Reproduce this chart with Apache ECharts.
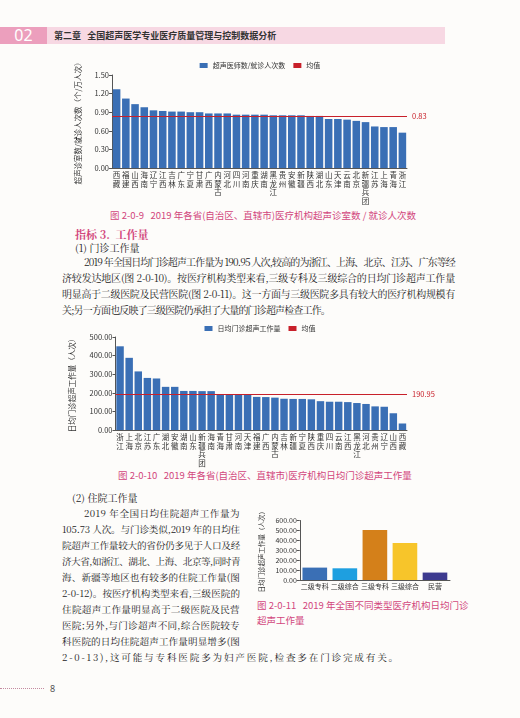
<!DOCTYPE html>
<html><head><meta charset="utf-8">
<script src="https://cdn.jsdelivr.net/npm/echarts@6/dist/echarts.min.js"></script>
<style>
body{margin:0;width:520px;height:718px;background:#fdfcfa;font-family:"Noto Serif CJK SC","Noto Sans CJK SC",serif;position:relative;overflow:hidden;color:#222}
.a{position:absolute;white-space:nowrap}
.cap{color:#d2467c;font-family:"Noto Sans CJK SC";font-size:9.5px}
.p{font-size:10px;line-height:14px}
.l{font-size:9.6px}
.c{position:absolute}
</style></head><body>
<div class="a" style="left:0;top:27px;width:445px;height:17px;background:#f7d8e3"></div>
<div class="a" style="left:0;top:27px;width:47px;height:17px;background:#ec9fbd;color:#fff;font-size:16px;line-height:17px;text-align:center;font-family:'Noto Sans'">02</div>
<div class="a" style="left:54px;top:29px;font-size:9px;font-family:'Noto Sans CJK SC';font-weight:bold;color:#333">第二章&nbsp;&nbsp;&nbsp;全国超声医学专业医疗质量管理与控制数据分析</div>
<div id="c1" class="c" style="left:60px;top:55px;width:400px;height:150px"></div>
<div class="a cap" style="left:110px;top:208px">图 2-0-9&nbsp;&nbsp;&nbsp;2019 年各省(自治区、直辖市)医疗机构超声诊室数 / 就诊人次数</div>
<div class="a" style="left:75px;top:226px;font-size:11px;color:#d2467c;font-weight:bold">指标 3.&nbsp;&nbsp;工作量</div>
<div class="a" style="left:75px;top:240px;font-size:10px">(1) 门诊工作量</div>
<div class="a p" data-w="371" style="left:84px;top:255px">2019 年全国日均门诊超声工作量为 190.95 人次,较高的为浙江、上海、北京、江苏、广东等经</div>
<div class="a p" data-w="393" style="left:62px;top:271px">济较发达地区(图 2-0-10)。按医疗机构类型来看,三级专科及三级综合的日均门诊超声工作量</div>
<div class="a p" data-w="393" style="left:62px;top:287px">明显高于二级医院及民营医院(图 2-0-11)。这一方面与三级医院多具有较大的医疗机构规模有</div>
<div class="a p" data-w="268" style="left:62px;top:303px">关;另一方面也反映了三级医院仍承担了大量的门诊超声检查工作。</div>
<div id="c2" class="c" style="left:60px;top:318px;width:400px;height:150px"></div>
<div class="a cap" style="left:118px;top:468px">图 2-0-10&nbsp;&nbsp;&nbsp;2019 年各省(自治区、直辖市)医疗机构日均门诊超声工作量</div>
<div class="a" style="left:72px;top:490px;font-size:10px">(2) 住院工作量</div>
<div class="a p l" data-w="156" style="left:84px;top:506px">2019 年全国日均住院超声工作量为</div>
<div class="a p l" data-w="178" style="left:62px;top:522px">105.73 人次。与门诊类似,2019 年的日均住</div>
<div class="a p l" data-w="178" style="left:62px;top:538px">院超声工作量较大的省份仍多见于人口及经</div>
<div class="a p l" data-w="178" style="left:62px;top:554px">济大省,如浙江、湖北、上海、北京等,同时青</div>
<div class="a p l" data-w="178" style="left:62px;top:570px">海、新疆等地区也有较多的住院工作量(图</div>
<div class="a p l" data-w="178" style="left:62px;top:586px">2-0-12)。按医疗机构类型来看,三级医院的</div>
<div class="a p l" data-w="178" style="left:62px;top:602px">住院超声工作量明显高于二级医院及民营</div>
<div class="a p l" data-w="178" style="left:62px;top:618px">医院;另外,与门诊超声不同,综合医院较专</div>
<div class="a p l" data-w="178" style="left:62px;top:634px">科医院的日均住院超声工作量明显增多(图</div>
<div class="a p l" data-w="338" style="left:62px;top:650px">2-0-13),这可能与专科医院多为妇产医院,检查多在门诊完成有关。</div>
<div id="c3" class="c" style="left:250px;top:505px;width:210px;height:90px"></div>
<div class="a cap" style="left:257px;top:598px;font-size:9.5px">图 2-0-11&nbsp;&nbsp;&nbsp;2019 年全国不同类型医疗机构日均门诊</div>
<div class="a cap" style="left:257px;top:613px;font-size:9.5px">超声工作量</div>
<div class="a" style="left:0;top:688px;width:44px;border-top:1.5px dotted #c48aa0"></div>
<div class="a" style="left:50px;top:682px;font-size:9px;color:#555;font-family:'Noto Sans'">8</div>
<script>
document.querySelectorAll('[data-w]').forEach(el=>{
 const w=+el.dataset.w, n=el.textContent.length;
 const nat=el.getBoundingClientRect().width;
 el.style.letterSpacing=((w-nat)/n)+'px';
});
const cats1=['西藏','福建','山西','海南','辽宁','江西','吉林','广东','宁夏','甘肃','广西','内蒙古','河北','四川','河南','重庆','湖南','黑龙江','贵州','安徽','新疆','陕西','湖北','山东','天津','云南','北京','新疆兵团','江苏','上海','青海','浙江'];
const vals1=[1.27,1.12,1.03,0.98,0.93,0.92,0.91,0.91,0.90,0.90,0.88,0.88,0.88,0.86,0.86,0.86,0.86,0.85,0.85,0.85,0.85,0.84,0.84,0.79,0.79,0.78,0.76,0.74,0.67,0.66,0.66,0.57];
const avg1=0.83;
const cats2=['浙江','上海','北京','江苏','广东','湖北','安徽','湖南','山东','新疆兵团','海南','青海','甘肃','河南','天津','福建','广西','内蒙古','吉林','新疆','宁夏','陕西','重庆','四川','云南','江西','黑龙江','河北','贵州','辽宁','山西','西藏'];
const vals2=[450,388,315,280,277,232,232,210,210,209,209,190,190,190,190,178,177,174,168,167,167,165,155,152,152,150,145,140,127,125,90,35];
const avg2=190.95;
const cats3=['二级专科','二级综合','三级专科','三级综合','民营'];
const vals3=[125,118,505,372,75];
const colors3=['#3a6fb5','#1e9fe0','#d4801a','#f7c52a','#3d3a8f'];
const F='Noto Sans CJK SC';
function prov(cats,vals,avg,yname,max,iv,top,bottom,digits){
 return {animation:false,textStyle:{fontFamily:F},
 legend:{top:2,left:'center',itemWidth:8,itemHeight:5,textStyle:{fontSize:7,color:'#333'},data:[{name:yname==='a'?'超声医师数/就诊人次数':'日均门诊超声工作量',icon:'rect'},{name:'均值',icon:'rect'}]},
 grid:{left:52,right:53,top:top,bottom:bottom},
 xAxis:{type:'category',data:cats,axisTick:{show:false},axisLine:{lineStyle:{color:'#555'}},axisLabel:{interval:0,fontSize:7.5,color:'#333',lineHeight:8.5,margin:3,formatter:v=>v.split('').join('\n')}},
 yAxis:{type:'value',min:0,max:max,interval:iv,name:yname==='a'?'超声诊室数/就诊人次数（个/万人次）':'日均门诊超声工作量（人次）',nameLocation:'middle',nameGap:yname==='a'?30:40,nameRotate:90,nameTextStyle:{fontSize:7.5,color:'#333'},splitLine:{show:false},axisLine:{show:true,lineStyle:{color:'#555'}},axisTick:{show:true,length:3},axisLabel:{fontSize:7.5,color:'#333',margin:3,formatter:v=>v.toFixed(2)}},
 series:[{name:yname==='a'?'超声医师数/就诊人次数':'日均门诊超声工作量',type:'bar',data:vals,barCategoryGap:'18%',itemStyle:{color:'#3a6fb5'}},
 {name:'均值',type:'line',data:[],itemStyle:{color:'#c8202a'},markLine:{symbol:'none',silent:true,lineStyle:{color:'#c8202a',width:1.2,type:'solid'},label:{position:'end',color:'#c8202a',fontSize:7.5,formatter:()=>avg.toFixed(digits)},data:[{yAxis:avg}]}}]};
}
echarts.init(document.getElementById('c1')).setOption(prov(cats1,vals1,avg1,'a',1.5,0.3,20,37,2));
echarts.init(document.getElementById('c2')).setOption(prov(cats2,vals2,avg2,'b',500,100,19,38,2));
echarts.init(document.getElementById('c3')).setOption({animation:false,textStyle:{fontFamily:F},
 grid:{left:37,right:10,top:7,bottom:15},
 xAxis:{type:'category',data:cats3,axisTick:{show:false},axisLine:{lineStyle:{color:'#555'}},axisLabel:{interval:0,fontSize:7,color:'#333',margin:3}},
 yAxis:{type:'value',min:0,max:600,interval:100,name:'日均门诊超声工作量（人次）',nameLocation:'middle',nameGap:30,nameRotate:90,nameTextStyle:{fontSize:6.5,color:'#333'},splitLine:{show:false},axisLine:{show:true,lineStyle:{color:'#555'}},axisTick:{show:true,length:3},axisLabel:{fontSize:7,color:'#333',margin:3,formatter:v=>v.toFixed(2)}},
 series:[{type:'bar',data:vals3.map((v,i)=>({value:v,itemStyle:{color:colors3[i]}})),barCategoryGap:'18%'}]});
</script></body></html>
